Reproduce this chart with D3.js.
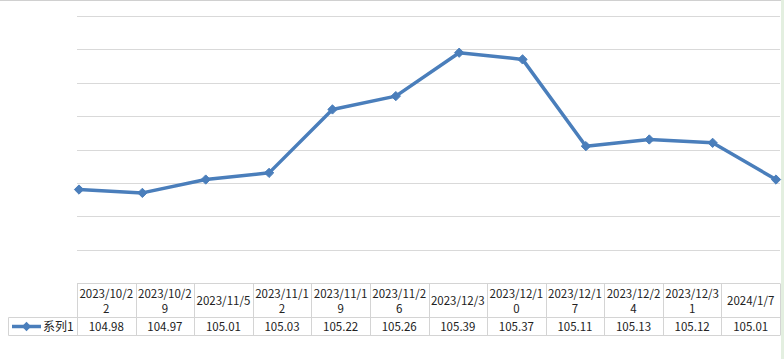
<!DOCTYPE html>
<html><head><meta charset="utf-8">
<script src="https://cdn.jsdelivr.net/npm/d3@7"></script>
<style>html,body{margin:0;padding:0;background:#fff;overflow:hidden}</style>
</head><body>
<svg id="c" width="784" height="359"></svg>
<script>
const categories = ["2023/10/22","2023/10/29","2023/11/5","2023/11/12","2023/11/19","2023/11/26","2023/12/3","2023/12/10","2023/12/17","2023/12/24","2023/12/31","2024/1/7"];
const values = [104.98,104.97,105.01,105.03,105.22,105.26,105.39,105.37,105.11,105.13,105.12,105.01];
const valueLabels = ["104.98","104.97","105.01","105.03","105.22","105.26","105.39","105.37","105.11","105.13","105.12","105.01"];
const yTicks = [104.7,104.8,104.9,105.0,105.1,105.2,105.3,105.4,105.5];
const seriesName = "系列1";

const svg = d3.select("#c");
const W = 784;
const plotL = 77, plotR = 780, plotT = 16, plotB = 283;
const color = "#4a7ebb", gridC = "#d9d9d9";
const font = "'Noto Sans CJK SC', sans-serif";

// outer top/right border
svg.append("line").attr("x1",0).attr("x2",W).attr("y1",0.5).attr("y2",0.5).attr("stroke","#d0d0d0");
svg.append("rect").attr("x",781).attr("y",0).attr("width",3).attr("height",359).attr("fill","#e3efe0");

const x = d3.scalePoint().domain(categories).range([79, 776]);
const y = d3.scaleLinear().domain([104.7,105.5]).range([plotB, plotT]);

// gridlines
svg.append("g").selectAll("line").data(yTicks).join("line")
  .attr("x1",plotL).attr("x2",plotR)
  .attr("y1",d=>Math.round(y(d))+0.5).attr("y2",d=>Math.round(y(d))+0.5)
  .attr("stroke",gridC).attr("stroke-width",1);

// line
const line = d3.line().x((d,i)=>x(categories[i])).y(d=>y(d));
svg.append("path").datum(values).attr("d",line)
  .attr("fill","none").attr("stroke",color).attr("stroke-width",3.5).attr("stroke-linejoin","round");
const diamond = d3.symbol().type(d3.symbolDiamond2).size(55);
svg.append("g").selectAll("path").data(values).join("path")
  .attr("transform",(d,i)=>`translate(${x(categories[i])},${y(d)})`)
  .attr("d",diamond).attr("fill",color).attr("stroke",color).attr("stroke-width",1);

// data table
const n = categories.length;
const cw = (plotR - plotL) / n;
const tTop = 283.5, tMid = 317.5, tBot = 335.5, labL = 8.5;
const tg = svg.append("g");
const bc = "#d4d4d4";
tg.append("line").attr("x1",plotL).attr("x2",plotR).attr("y1",tTop).attr("y2",tTop).attr("stroke",bc);
tg.append("line").attr("x1",labL).attr("x2",plotR).attr("y1",tMid).attr("y2",tMid).attr("stroke",bc);
tg.append("line").attr("x1",labL).attr("x2",plotR).attr("y1",tBot).attr("y2",tBot).attr("stroke",bc);
tg.append("line").attr("x1",labL).attr("x2",labL).attr("y1",tMid).attr("y2",tBot).attr("stroke",bc);
tg.selectAll("line.v").data(d3.range(n+1)).join("line").attr("class","v")
  .attr("x1",i=>Math.round(plotL+i*cw)+0.5).attr("x2",i=>Math.round(plotL+i*cw)+0.5)
  .attr("y1",tTop).attr("y2",tBot).attr("stroke",bc);

const hdr = tg.selectAll("text.h").data(categories).join("text").attr("class","h")
  .attr("text-anchor","middle").attr("font-family",font).attr("font-size",11.5).attr("fill","#222");
hdr.each(function(d,i){
  const cx = plotL + (i+0.5)*cw;
  const t = d3.select(this);
  if (d.length > 9) {
    t.append("tspan").attr("x",cx).attr("y",298).text(d.slice(0,9));
    t.append("tspan").attr("x",cx).attr("y",313).text(d.slice(9));
  } else {
    t.append("tspan").attr("x",cx).attr("y",305).text(d);
  }
});
tg.selectAll("text.v").data(valueLabels).join("text").attr("class","v")
  .attr("x",(d,i)=>plotL+(i+0.5)*cw).attr("y",331).attr("text-anchor","middle")
  .attr("font-family",font).attr("font-size",11.5).attr("fill","#222").text(d=>d);

// legend key
tg.append("line").attr("x1",12).attr("x2",41).attr("y1",326.5).attr("y2",326.5).attr("stroke",color).attr("stroke-width",3.5);
tg.append("path").attr("transform","translate(26.5,326.5)").attr("d",diamond).attr("fill",color);
tg.append("text").attr("x",43).attr("y",331).attr("font-family",font).attr("font-size",12).attr("fill","#222").text(seriesName);
</script>
</body></html>
